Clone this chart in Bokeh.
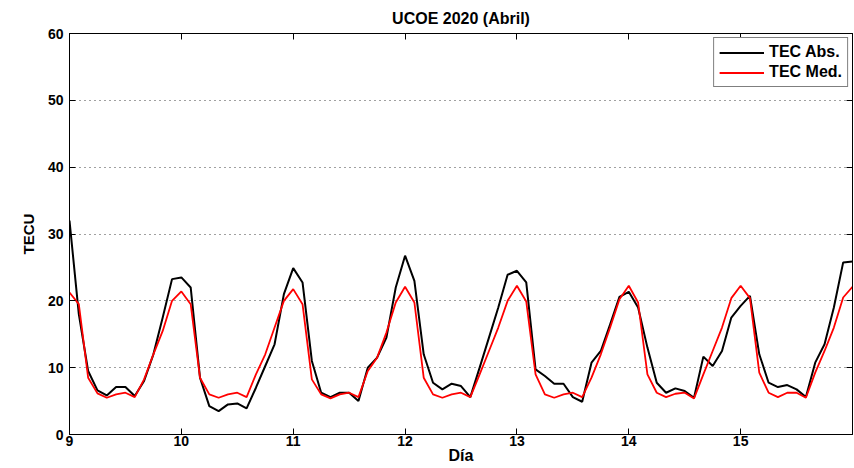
from bokeh.plotting import figure
from bokeh.models import Range1d, LinearAxis, FixedTicker, Legend, LegendItem
from bokeh.embed import file_html
from bokeh.resources import INLINE

# ---- data (2-hourly samples, 9 Apr 00h to 16 Apr 00h) ----
hours = list(range(0, 169, 2))
days = [9 + h / 24 for h in hours]

tec_abs = [
    32, 18, 9.5, 6.6, 5.85, 7.1, 7.1, 5.75, 8, 12, 17.5, 23.25,
    23.5, 22, 8.5, 4.25, 3.5, 4.5, 4.65, 3.9, 7, 10.25, 13.5, 21,
    24.9, 22.75, 11, 6.25, 5.6, 6.25, 6.25, 5, 10, 11.5, 14.5, 22,
    26.75, 23, 12, 7.75, 6.75, 7.6, 7.25, 5.6, 10, 14.5, 19, 23.9,
    24.5, 22.75, 9.75, 8.75, 7.6, 7.6, 5.6, 4.9, 10.75, 12.5, 16.5, 20.6,
    21.35, 19, 13, 7.75, 6.25, 6.9, 6.5, 5.5, 11.65, 10.25, 12.5, 17.5,
    19.25, 20.75, 12, 7.75, 7.1, 7.4, 6.75, 5.6, 10.75, 13.5, 19, 25.75,
    25.9,
]
tec_med = [
    21.25, 19.5, 8.5, 6.15, 5.5, 6, 6.25, 5.6, 8.25, 12, 15.5, 20,
    21.4, 19.5, 8.5, 6, 5.5, 6, 6.25, 5.6, 9, 12, 16, 20,
    21.75, 19.5, 8.25, 6, 5.4, 6, 6.25, 5.6, 9.5, 11.5, 15.25, 19.75,
    22.1, 19.75, 8.5, 6, 5.5, 6, 6.25, 5.6, 9, 12.5, 16, 20,
    22.25, 19.9, 9, 6, 5.5, 6, 6.25, 5.6, 8.5, 12, 16, 20.25,
    22.25, 19.75, 9, 6.25, 5.6, 6.1, 6.25, 5.4, 9, 12.5, 16, 20.4,
    22.25, 20.4, 9.25, 6.25, 5.6, 6.25, 6.25, 5.5, 9.25, 12.5, 16, 20.5,
    22.1,
]
x_ticks = [9, 10, 11, 12, 13, 14, 15]
y_ticks = [0, 10, 20, 30, 40, 50, 60]
title_text = "UCOE 2020 (Abril)"
x_label = "Día"
y_label = "TECU"
series_names = ["TEC Abs.", "TEC Med."]

FONT = "Liberation Sans"
W, H = 854, 468

p = figure(width=W, height=H, output_backend="svg", toolbar_location=None,
           x_range=Range1d(9, 16), y_range=Range1d(0, 60),
           min_border_left=69, min_border_right=2,
           min_border_top=33, min_border_bottom=34)
p.outline_line_color = "black"
p.outline_line_width = 1
p.background_fill_color = "white"
p.border_fill_color = "white"

p.title.text = title_text
p.title.align = "center"
p.title.text_font = FONT
p.title.text_font_style = "bold"
p.title.text_font_size = "16px"
p.title.text_color = "black"
p.title.standoff = 13


def style_axis(ax, labels=True):
    ax.axis_line_color = "black"
    ax.major_tick_line_color = "black"
    ax.major_tick_in = 6
    ax.major_tick_out = 0
    ax.minor_tick_line_color = None
    if labels:
        ax.major_label_text_font = FONT
        ax.major_label_text_font_style = "bold"
        ax.major_label_text_font_size = "14px"
        ax.major_label_text_color = "black"
    else:
        ax.major_label_text_font_size = "1px"
        ax.major_label_text_color = None
        ax.major_label_standoff = 0


p.xaxis.ticker = FixedTicker(ticks=x_ticks)
p.yaxis.ticker = FixedTicker(ticks=y_ticks)
style_axis(p.xaxis[0])
style_axis(p.yaxis[0])
p.xaxis.major_label_standoff = 1
p.xaxis.axis_label = x_label
p.xaxis.axis_label_text_font = FONT
p.xaxis.axis_label_text_font_style = "bold"
p.xaxis.axis_label_text_font_size = "16px"
p.xaxis.axis_label_text_color = "black"
p.xaxis.axis_label_standoff = -2
p.yaxis.major_label_standoff = 6
p.yaxis.axis_label = y_label
p.yaxis.axis_label_text_font = FONT
p.yaxis.axis_label_text_font_style = "bold"
p.yaxis.axis_label_text_font_size = "15px"
p.yaxis.axis_label_text_color = "black"
p.yaxis.axis_label_standoff = 8

top_ax = LinearAxis(ticker=FixedTicker(ticks=x_ticks))
style_axis(top_ax, labels=False)
p.add_layout(top_ax, "above")
right_ax = LinearAxis(ticker=FixedTicker(ticks=y_ticks))
style_axis(right_ax, labels=False)
p.add_layout(right_ax, "right")

p.xgrid.visible = False
p.ygrid.ticker = FixedTicker(ticks=y_ticks)
p.ygrid.grid_line_color = "#404040"
p.ygrid.grid_line_dash = "1 4"
p.ygrid.grid_line_width = 1

r_abs = p.line(days, tec_abs, line_color="black", line_width=2)
r_med = p.line(days, tec_med, line_color="red", line_width=1.8)

legend = Legend(items=[LegendItem(label=series_names[0], renderers=[r_abs]),
                       LegendItem(label=series_names[1], renderers=[r_med])],
                location="top_right")
legend.label_text_font = FONT
legend.label_text_font_style = "bold"
legend.label_text_font_size = "16px"
legend.label_text_color = "black"
legend.border_line_color = "black"
legend.border_line_width = 1
legend.background_fill_color = "white"
legend.background_fill_alpha = 1
legend.glyph_width = 45
legend.glyph_height = 17
legend.label_height = 17
legend.label_standoff = 5
legend.padding = 5
legend.spacing = 2
legend.margin = 4
p.add_layout(legend)

open("out.html", "w").write(file_html(p, INLINE))
